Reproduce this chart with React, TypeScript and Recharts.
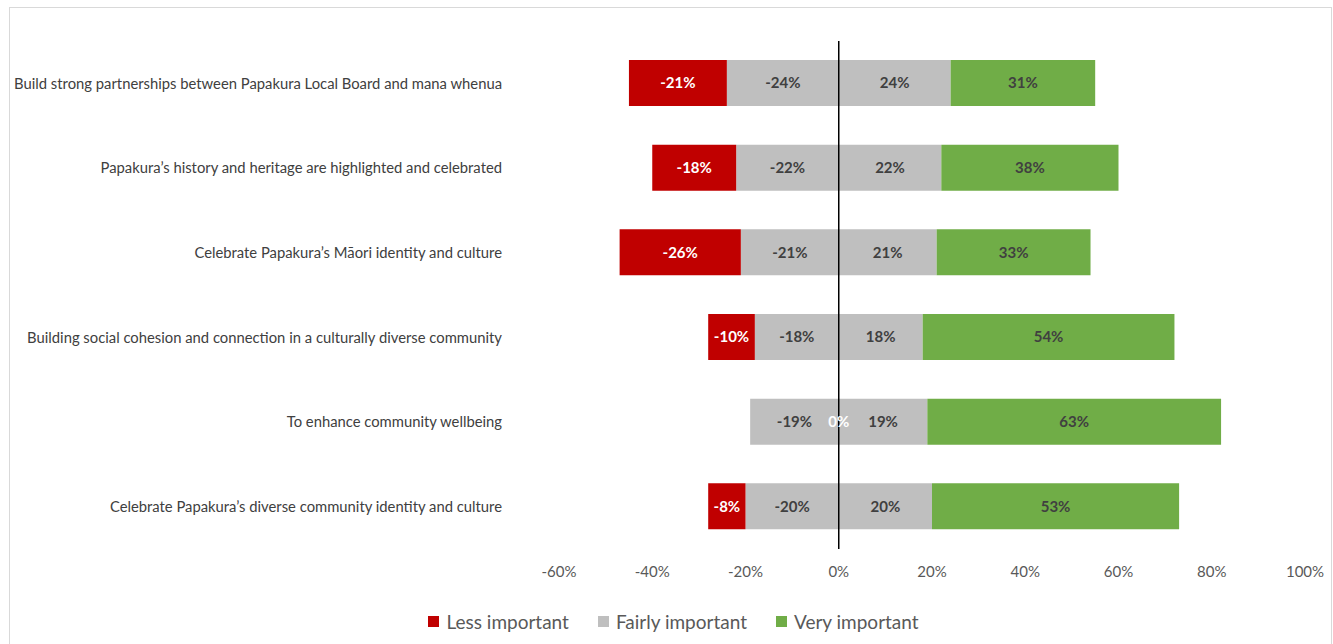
import { BarChart, Bar, XAxis, YAxis, ReferenceLine, ReferenceDot, LabelList } from "recharts";

const categories = [
  "Build strong partnerships between Papakura Local Board and mana whenua",
  "Papakura\u2019s history and heritage are highlighted and celebrated",
  "Celebrate Papakura\u2019s M\u0101ori identity and culture",
  "Building social cohesion and connection in a culturally diverse community",
  "To enhance community wellbeing",
  "Celebrate Papakura\u2019s diverse community identity and culture",
];
const lessImportant = [-21, -18, -26, -10, 0, -8];
const fairlyImportant = [24, 22, 21, 18, 19, 20];
const veryImportant = [31, 38, 33, 54, 63, 53];
const xTicks = [-60, -40, -20, 0, 20, 40, 60, 80, 100];

const legendItems = [
  { name: "Less important", color: "#C00000" },
  { name: "Fairly important", color: "#BFBFBF" },
  { name: "Very important", color: "#70AD47" },
];

const data = categories.map((name, i) => ({
  name,
  fairlyNeg: -fairlyImportant[i],
  less: lessImportant[i],
  fairlyPos: fairlyImportant[i],
  very: veryImportant[i],
}));

// zero-width "less" bars still get their label, like Excel does
const zeroLess = data.filter((d) => d.less === 0);

const FONT = "Lato, 'Open Sans', sans-serif";
const pct = (v: any) => `${v}%`;
const labelStyle = { fontFamily: FONT, fontSize: 15, fontWeight: 700 };

export default function App() {
  return (
    <div style={{ position: "absolute", left: 0, top: 0, width: 1333, height: 644, background: "#fff", fontFamily: FONT }}>
      <div
        style={{
          position: "absolute",
          left: 9,
          top: 7,
          width: 1321,
          height: 660,
          border: "1px solid #d9d9d9",
        }}
      />
      <div style={{ position: "absolute", left: 0, top: 0 }}>
        <BarChart
          width={1333}
          height={644}
          data={data}
          layout="vertical"
          stackOffset="sign"
          barSize={46}
          margin={{ top: 41, right: 28, left: 0, bottom: 55 }}
        >
          <XAxis
            type="number"
            domain={[-60, 100]}
            ticks={xTicks}
            tickFormatter={pct}
            axisLine={false}
            tickLine={false}
            tickSize={0}
            tickMargin={17}
            height={40}
            interval={0}
            tick={{ fill: "#595959", fontSize: 15, fontFamily: FONT }}
          />
          <YAxis
            type="category"
            dataKey="name"
            width={559}
            axisLine={false}
            tickLine={false}
            tickSize={0}
            tickMargin={57}
            interval={0}
            tick={{ fill: "#404040", fontSize: 14.8, fontFamily: FONT }}
          />
          <Bar dataKey="fairlyNeg" stackId="a" fill="#BFBFBF" isAnimationActive={false}>
            <LabelList dataKey="fairlyNeg" position="center" formatter={pct} fill="#404040" style={labelStyle} />
          </Bar>
          <Bar dataKey="less" stackId="a" fill="#C00000" isAnimationActive={false}>
            <LabelList dataKey="less" position="center" formatter={pct} fill="#ffffff" style={labelStyle} />
          </Bar>
          <Bar dataKey="fairlyPos" stackId="a" fill="#BFBFBF" isAnimationActive={false}>
            <LabelList dataKey="fairlyPos" position="center" formatter={pct} fill="#404040" style={labelStyle} />
          </Bar>
          <Bar dataKey="very" stackId="a" fill="#70AD47" isAnimationActive={false}>
            <LabelList dataKey="very" position="center" formatter={pct} fill="#404040" style={labelStyle} />
          </Bar>
          <ReferenceLine x={0} stroke="#000000" strokeWidth={1.5} />
          {zeroLess.map((d) => (
            <ReferenceDot
              key={d.name}
              x={0}
              y={d.name}
              r={0}
              fill="none"
              stroke="none"
              label={{ value: pct(d.less), position: "center", fill: "#ffffff", style: labelStyle }}
            />
          ))}
        </BarChart>
      </div>
      <div
        style={{
          position: "absolute",
          left: 0,
          top: 610,
          width: 1333,
          display: "flex",
          justifyContent: "center",
          gap: 29,
          paddingLeft: 14,
          boxSizing: "border-box",
        }}
      >
        {legendItems.map((it) => (
          <div key={it.name} style={{ display: "flex", alignItems: "center", color: "#595959", fontSize: 19 }}>
            <span style={{ display: "inline-block", width: 11, height: 11, background: it.color, marginRight: 7 }} />
            {it.name}
          </div>
        ))}
      </div>
    </div>
  );
}
